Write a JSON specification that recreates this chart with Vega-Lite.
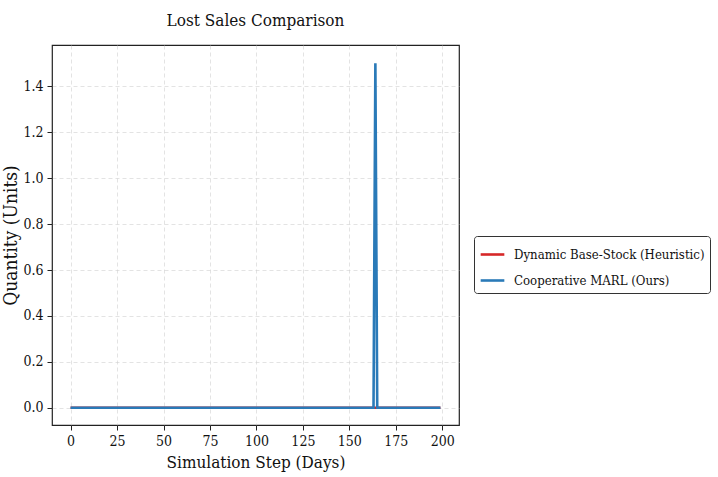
{
  "$schema": "https://vega.github.io/schema/vega-lite/v6.json",
  "width": 407,
  "height": 380,
  "autosize": {"type": "none"},
  "padding": {"left": 52, "top": 45, "right": 259, "bottom": 52},
  "background": "white",
  "config": {
    "font": "DejaVu Serif Condensed, DejaVu Serif",
    "view": {"stroke": "#222222", "strokeWidth": 1.2},
    "axis": {
      "domain": false,
      "grid": true,
      "gridColor": "#cccccc",
      "gridDash": [4, 3],
      "gridOpacity": 0.7,
      "gridWidth": 0.8,
      "tickColor": "#222222",
      "tickSize": 5,
      "labelFont": "DejaVu Serif Condensed, DejaVu Serif",
      "labelFontSize": 14,
      "labelColor": "#111111",
      "titleFont": "DejaVu Serif Condensed, DejaVu Serif",
      "titleFontSize": 17,
      "titleFontWeight": "normal",
      "titleColor": "#111111"
    }
  },
  "title": {
    "text": "Lost Sales Comparison",
    "font": "DejaVu Serif Condensed, DejaVu Serif",
    "fontSize": 17,
    "fontWeight": "normal",
    "color": "#111111",
    "anchor": "middle",
    "offset": 15
  },
  "data": {
    "values": [
      {"t":0,"h":0,"m":0},{"t":1,"h":0,"m":0},{"t":2,"h":0,"m":0},{"t":3,"h":0,"m":0},{"t":4,"h":0,"m":0},{"t":5,"h":0,"m":0},{"t":6,"h":0,"m":0},{"t":7,"h":0,"m":0},{"t":8,"h":0,"m":0},{"t":9,"h":0,"m":0},
      {"t":10,"h":0,"m":0},{"t":11,"h":0,"m":0},{"t":12,"h":0,"m":0},{"t":13,"h":0,"m":0},{"t":14,"h":0,"m":0},{"t":15,"h":0,"m":0},{"t":16,"h":0,"m":0},{"t":17,"h":0,"m":0},{"t":18,"h":0,"m":0},{"t":19,"h":0,"m":0},
      {"t":20,"h":0,"m":0},{"t":21,"h":0,"m":0},{"t":22,"h":0,"m":0},{"t":23,"h":0,"m":0},{"t":24,"h":0,"m":0},{"t":25,"h":0,"m":0},{"t":26,"h":0,"m":0},{"t":27,"h":0,"m":0},{"t":28,"h":0,"m":0},{"t":29,"h":0,"m":0},
      {"t":30,"h":0,"m":0},{"t":31,"h":0,"m":0},{"t":32,"h":0,"m":0},{"t":33,"h":0,"m":0},{"t":34,"h":0,"m":0},{"t":35,"h":0,"m":0},{"t":36,"h":0,"m":0},{"t":37,"h":0,"m":0},{"t":38,"h":0,"m":0},{"t":39,"h":0,"m":0},
      {"t":40,"h":0,"m":0},{"t":41,"h":0,"m":0},{"t":42,"h":0,"m":0},{"t":43,"h":0,"m":0},{"t":44,"h":0,"m":0},{"t":45,"h":0,"m":0},{"t":46,"h":0,"m":0},{"t":47,"h":0,"m":0},{"t":48,"h":0,"m":0},{"t":49,"h":0,"m":0},
      {"t":50,"h":0,"m":0},{"t":51,"h":0,"m":0},{"t":52,"h":0,"m":0},{"t":53,"h":0,"m":0},{"t":54,"h":0,"m":0},{"t":55,"h":0,"m":0},{"t":56,"h":0,"m":0},{"t":57,"h":0,"m":0},{"t":58,"h":0,"m":0},{"t":59,"h":0,"m":0},
      {"t":60,"h":0,"m":0},{"t":61,"h":0,"m":0},{"t":62,"h":0,"m":0},{"t":63,"h":0,"m":0},{"t":64,"h":0,"m":0},{"t":65,"h":0,"m":0},{"t":66,"h":0,"m":0},{"t":67,"h":0,"m":0},{"t":68,"h":0,"m":0},{"t":69,"h":0,"m":0},
      {"t":70,"h":0,"m":0},{"t":71,"h":0,"m":0},{"t":72,"h":0,"m":0},{"t":73,"h":0,"m":0},{"t":74,"h":0,"m":0},{"t":75,"h":0,"m":0},{"t":76,"h":0,"m":0},{"t":77,"h":0,"m":0},{"t":78,"h":0,"m":0},{"t":79,"h":0,"m":0},
      {"t":80,"h":0,"m":0},{"t":81,"h":0,"m":0},{"t":82,"h":0,"m":0},{"t":83,"h":0,"m":0},{"t":84,"h":0,"m":0},{"t":85,"h":0,"m":0},{"t":86,"h":0,"m":0},{"t":87,"h":0,"m":0},{"t":88,"h":0,"m":0},{"t":89,"h":0,"m":0},
      {"t":90,"h":0,"m":0},{"t":91,"h":0,"m":0},{"t":92,"h":0,"m":0},{"t":93,"h":0,"m":0},{"t":94,"h":0,"m":0},{"t":95,"h":0,"m":0},{"t":96,"h":0,"m":0},{"t":97,"h":0,"m":0},{"t":98,"h":0,"m":0},{"t":99,"h":0,"m":0},
      {"t":100,"h":0,"m":0},{"t":101,"h":0,"m":0},{"t":102,"h":0,"m":0},{"t":103,"h":0,"m":0},{"t":104,"h":0,"m":0},{"t":105,"h":0,"m":0},{"t":106,"h":0,"m":0},{"t":107,"h":0,"m":0},{"t":108,"h":0,"m":0},{"t":109,"h":0,"m":0},
      {"t":110,"h":0,"m":0},{"t":111,"h":0,"m":0},{"t":112,"h":0,"m":0},{"t":113,"h":0,"m":0},{"t":114,"h":0,"m":0},{"t":115,"h":0,"m":0},{"t":116,"h":0,"m":0},{"t":117,"h":0,"m":0},{"t":118,"h":0,"m":0},{"t":119,"h":0,"m":0},
      {"t":120,"h":0,"m":0},{"t":121,"h":0,"m":0},{"t":122,"h":0,"m":0},{"t":123,"h":0,"m":0},{"t":124,"h":0,"m":0},{"t":125,"h":0,"m":0},{"t":126,"h":0,"m":0},{"t":127,"h":0,"m":0},{"t":128,"h":0,"m":0},{"t":129,"h":0,"m":0},
      {"t":130,"h":0,"m":0},{"t":131,"h":0,"m":0},{"t":132,"h":0,"m":0},{"t":133,"h":0,"m":0},{"t":134,"h":0,"m":0},{"t":135,"h":0,"m":0},{"t":136,"h":0,"m":0},{"t":137,"h":0,"m":0},{"t":138,"h":0,"m":0},{"t":139,"h":0,"m":0},
      {"t":140,"h":0,"m":0},{"t":141,"h":0,"m":0},{"t":142,"h":0,"m":0},{"t":143,"h":0,"m":0},{"t":144,"h":0,"m":0},{"t":145,"h":0,"m":0},{"t":146,"h":0,"m":0},{"t":147,"h":0,"m":0},{"t":148,"h":0,"m":0},{"t":149,"h":0,"m":0},
      {"t":150,"h":0,"m":0},{"t":151,"h":0,"m":0},{"t":152,"h":0,"m":0},{"t":153,"h":0,"m":0},{"t":154,"h":0,"m":0},{"t":155,"h":0,"m":0},{"t":156,"h":0,"m":0},{"t":157,"h":0,"m":0},{"t":158,"h":0,"m":0},{"t":159,"h":0,"m":0},
      {"t":160,"h":0,"m":0},{"t":161,"h":0,"m":0},{"t":162,"h":0,"m":0},{"t":163,"h":0,"m":0},{"t":164,"h":0,"m":1.5},{"t":165,"h":0,"m":0},{"t":166,"h":0,"m":0},{"t":167,"h":0,"m":0},{"t":168,"h":0,"m":0},{"t":169,"h":0,"m":0},
      {"t":170,"h":0,"m":0},{"t":171,"h":0,"m":0},{"t":172,"h":0,"m":0},{"t":173,"h":0,"m":0},{"t":174,"h":0,"m":0},{"t":175,"h":0,"m":0},{"t":176,"h":0,"m":0},{"t":177,"h":0,"m":0},{"t":178,"h":0,"m":0},{"t":179,"h":0,"m":0},
      {"t":180,"h":0,"m":0},{"t":181,"h":0,"m":0},{"t":182,"h":0,"m":0},{"t":183,"h":0,"m":0},{"t":184,"h":0,"m":0},{"t":185,"h":0,"m":0},{"t":186,"h":0,"m":0},{"t":187,"h":0,"m":0},{"t":188,"h":0,"m":0},{"t":189,"h":0,"m":0},
      {"t":190,"h":0,"m":0},{"t":191,"h":0,"m":0},{"t":192,"h":0,"m":0},{"t":193,"h":0,"m":0},{"t":194,"h":0,"m":0},{"t":195,"h":0,"m":0},{"t":196,"h":0,"m":0},{"t":197,"h":0,"m":0},{"t":198,"h":0,"m":0},{"t":199,"h":0,"m":0}
    ]
  },
  "transform": [
    {"fold": ["h", "m"], "as": ["series", "value"]}
  ],
  "mark": {"type": "line", "strokeWidth": 2.6, "clip": true},
  "encoding": {
    "x": {
      "field": "t",
      "type": "quantitative",
      "title": "Simulation Step (Days)",
      "scale": {"domain": [-10, 209], "nice": false, "zero": false},
      "axis": {"values": [0, 25, 50, 75, 100, 125, 150, 175, 200], "labelPadding": 4, "titlePadding": 6}
    },
    "y": {
      "field": "value",
      "type": "quantitative",
      "title": "Quantity (Units)",
      "scale": {"domain": [-0.075, 1.58], "nice": false, "zero": false},
      "axis": {"values": [0, 0.2, 0.4, 0.6, 0.8, 1.0, 1.2, 1.4], "format": ".1f", "labelPadding": 4, "titlePadding": 2, "titleFontSize": 19}
    },
    "color": {
      "field": "series",
      "type": "nominal",
      "scale": {"domain": ["h", "m"], "range": ["#d62728", "#2a7ab8"]},
      "legend": {
        "title": null,
        "orient": "none",
        "legendX": 422,
        "legendY": 191,
        "symbolType": "stroke",
        "symbolSize": 560,
        "symbolStrokeWidth": 2.6,
        "labelFont": "DejaVu Serif Condensed, DejaVu Serif",
        "labelFontSize": 13.1,
        "labelColor": "#111111",
        "labelLimit": 400,
        "labelOffset": 8,
        "rowPadding": 5,
        "padding": 5,
        "strokeColor": "#333333",
        "fillColor": "white",
        "cornerRadius": 3,
        "labelExpr": "datum.value == 'h' ? 'Dynamic Base-Stock (Heuristic)' : 'Cooperative MARL (Ours)'"
      }
    },
    "order": {"field": "series"}
  }
}
